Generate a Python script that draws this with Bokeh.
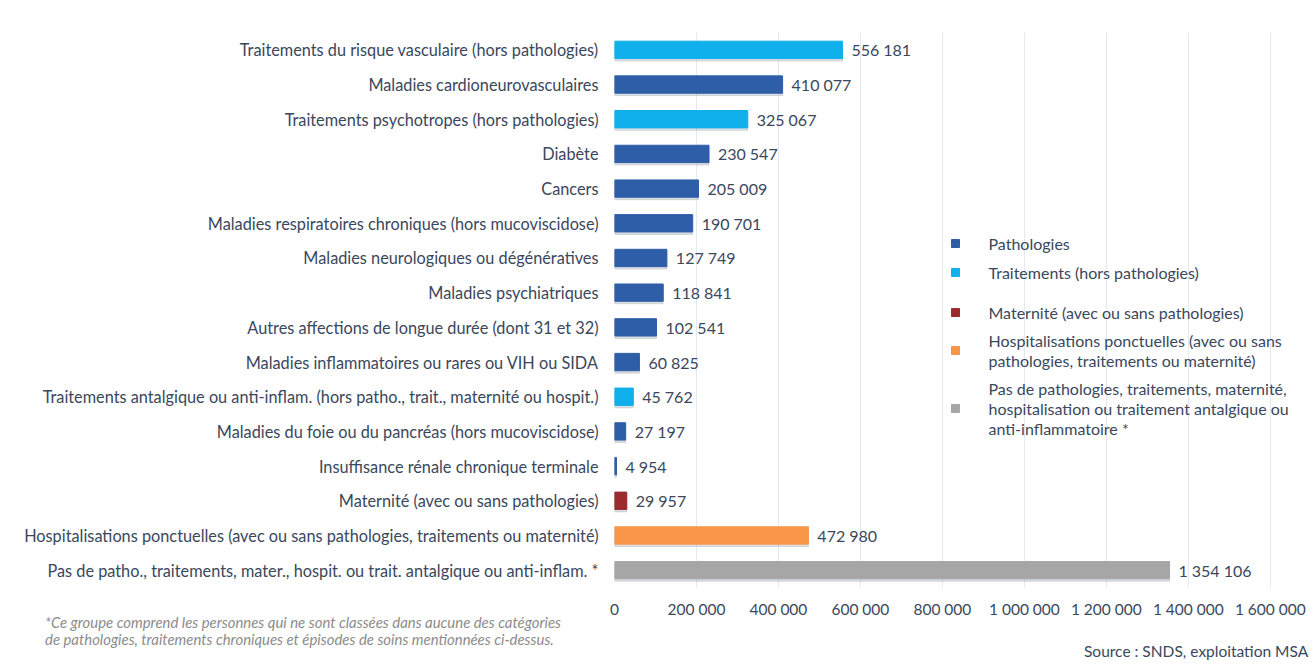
from bokeh.plotting import figure
from bokeh.models import Range1d, FixedTicker, ColumnDataSource, Div
from bokeh.layouts import column, row
from bokeh.core.properties import value
from bokeh.embed import file_html
from bokeh.resources import INLINE

categories = [
    "Traitements du risque vasculaire (hors pathologies)",
    "Maladies cardioneurovasculaires",
    "Traitements psychotropes (hors pathologies)",
    "Diabète",
    "Cancers",
    "Maladies respiratoires chroniques (hors mucoviscidose)",
    "Maladies neurologiques ou dégénératives",
    "Maladies psychiatriques",
    "Autres affections de longue durée (dont 31 et 32)",
    "Maladies inflammatoires ou rares ou VIH ou SIDA",
    "Traitements antalgique ou anti-inflam. (hors patho., trait., maternité ou hospit.)",
    "Maladies du foie ou du pancréas (hors mucoviscidose)",
    "Insuffisance rénale chronique terminale",
    "Maternité (avec ou sans pathologies)",
    "Hospitalisations ponctuelles (avec ou sans pathologies, traitements ou maternité)",
    "Pas de patho., traitements, mater., hospit. ou trait. antalgique ou anti-inflam. *",
]
values = [556181, 410077, 325067, 230547, 205009, 190701, 127749, 118841,
          102541, 60825, 45762, 27197, 4954, 29957, 472980, 1354106]
groups = ["trait", "patho", "trait", "patho", "patho", "patho", "patho", "patho",
          "patho", "patho", "trait", "patho", "patho", "mater", "hosp", "none"]

group_keys = ["patho", "trait", "mater", "hosp", "none"]
group_colors = ["#2e5ea8", "#0fb0ec", "#9b2b2e", "#f79646", "#a6a6a6"]
legend_lines = [
    ["Pathologies"],
    ["Traitements (hors pathologies)"],
    ["Maternité (avec ou sans pathologies)"],
    ["Hospitalisations ponctuelles (avec ou sans", "pathologies, traitements ou maternité)"],
    ["Pas de pathologies, traitements, maternité,", "hospitalisation ou traitement antalgique ou", "anti-inflammatoire *"],
]
x_ticks = [0, 200000, 400000, 600000, 800000, 1000000, 1200000, 1400000, 1600000]
footnote = ["*Ce groupe comprend les personnes qui ne sont classées dans aucune des catégories",
            "de pathologies, traitements chroniques et épisodes de soins mentionnées ci-dessus."]
source_text = "Source : SNDS, exploitation MSA"

FONT = "Lato"
TXT = "#3a475c"

def fmt(v):
    return f"{v:,}".replace(",", "\u202f")

W, H = 1316, 664
FIG_H = 620
LEFT, TOP, FRAME_BOTTOM = 614, 32, 587
PX_PER_UNIT = 664 / 1620000
XMAX = (W - LEFT) / PX_PER_UNIT
frame_w = W - LEFT
frame_h = FRAME_BOTTOM - TOP
n = len(categories)

def px_to_x(px):
    return (px - LEFT) / frame_w * XMAX

def py_to_y(py):
    return (n - 0.5) - (py - TOP) / frame_h * n

p = figure(width=W, height=FIG_H, output_backend="svg", toolbar_location=None,
           x_range=Range1d(0, XMAX), y_range=Range1d(-0.5, n - 0.5),
           min_border_left=LEFT, min_border_right=0,
           min_border_top=TOP, min_border_bottom=FIG_H - FRAME_BOTTOM)
p.outline_line_color = None
p.background_fill_color = "white"
p.border_fill_color = "white"
p.margin = (0, 0, 0, 0)

ys = [n - 1 - i for i in range(n)]
colors = [group_colors[group_keys.index(g)] for g in groups]
src = ColumnDataSource(dict(y=ys, v=values, c=colors, lab=[fmt(v) for v in values],
                            ysh=[y - 0.07 for y in ys]))

# shadows
p.hbar(y="ysh", right="v", left=0, height=0.5, source=src, color="#9aa3b0", alpha=0.35)
p.hbar(y="y", right="v", left=0, height=0.5, source=src, fill_color="c", line_color="c")
p.text(x="v", y="y", text="lab", source=src, x_offset=9, text_baseline="middle",
       text_font=value(FONT), text_font_size="16px", text_color=TXT)

# axes
p.xaxis.ticker = FixedTicker(ticks=x_ticks)
p.xaxis.major_label_overrides = {t: fmt(t) for t in x_ticks}
p.xaxis.axis_line_color = None
p.xaxis.major_tick_line_color = None
p.xaxis.minor_tick_line_color = None
p.xaxis.major_tick_out = 0
p.xaxis.major_label_standoff = 12
p.xaxis.major_label_text_font = FONT
p.xaxis.major_label_text_font_size = "15.5px"
p.xaxis.major_label_text_color = TXT

p.yaxis.ticker = FixedTicker(ticks=ys)
p.yaxis.major_label_overrides = {y: c for y, c in zip(ys, categories)}
p.yaxis.axis_line_color = None
p.yaxis.major_tick_line_color = None
p.yaxis.minor_tick_line_color = None
p.yaxis.major_label_standoff = 10
p.yaxis.major_label_text_font = FONT
p.yaxis.major_label_text_font_size = "16.3px"
p.yaxis.major_label_text_color = TXT

p.xgrid.ticker = FixedTicker(ticks=x_ticks)
p.xgrid.grid_line_color = "#e3e9f2"
p.ygrid.grid_line_color = None

# legend (manual)
sq_px, txt_px = 955, 988
item_rows = [243, 272, 312, 350, 408]
line_gap = 20
sq_x, sq_y, sq_c = [], [], []
lx, ly, lt = [], [], []
for k, (rowpy, lines) in enumerate(zip(item_rows, legend_lines)):
    sq_x.append(px_to_x(sq_px)); sq_y.append(py_to_y(rowpy)); sq_c.append(group_colors[k])
    m = len(lines)
    for j, line in enumerate(lines):
        lx.append(px_to_x(txt_px))
        ly.append(py_to_y(rowpy + (j - (m - 1) / 2) * line_gap))
        lt.append(line)
p.scatter(x=sq_x, y=sq_y, marker="square", size=8, color=sq_c)
p.text(x=lx, y=ly, text=lt, text_baseline="middle", text_font=value(FONT),
       text_font_size="16px", text_color=TXT)

foot_html = '<div style="position:relative; top:-6px">' + "<br>".join(footnote) + "</div>"
foot_div = Div(text=foot_html, width=1078, height=H - FIG_H, margin=(0, 0, 0, 0),
               styles={"font-family": FONT, "font-style": "italic", "font-size": "14.9px",
                       "color": "#8c8c8c", "line-height": "17px", "padding-left": "45px",
                       "white-space": "nowrap"})
src_div = Div(text=source_text, width=W - 1078, height=H - FIG_H, margin=(0, 0, 0, 0),
              styles={"font-family": FONT, "font-size": "15.5px", "color": TXT,
                      "line-height": "20px", "padding-top": "21px", "padding-left": "6px",
                      "white-space": "nowrap"})

layout = column(p, row(foot_div, src_div, spacing=0), spacing=0)
open("out.html", "w").write(file_html(layout, INLINE))
